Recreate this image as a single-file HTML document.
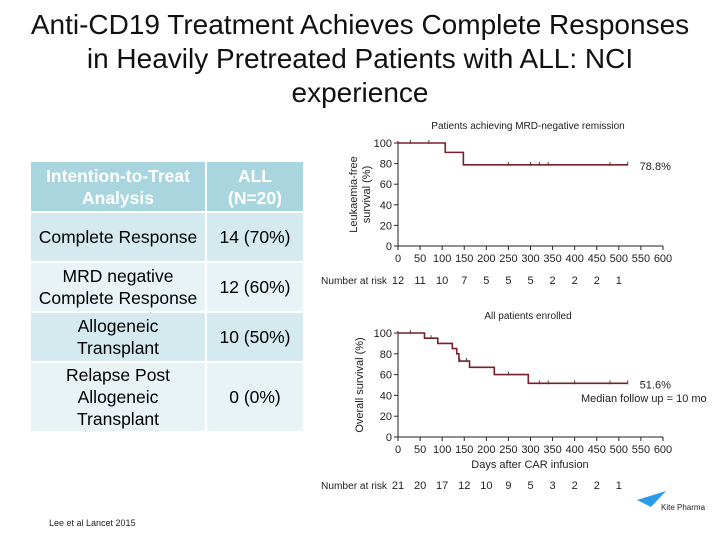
<!DOCTYPE html>
<html><head><meta charset="utf-8"><style>
body{margin:0;width:720px;height:540px;background:#fff;position:relative;overflow:hidden;font-family:"Liberation Sans",Arial,sans-serif}
#title{position:absolute;left:0;top:8px;width:720px;text-align:center;font-size:28px;line-height:34px;color:#111}
table{position:absolute;left:31px;top:162px;border-collapse:separate;border-spacing:0 0;font-size:17.5px;color:#000}
td{text-align:center;border-right:2px solid #fff;border-bottom:2px solid #fff;line-height:22px;padding:0}
.c1{width:174px}.c2{width:96px}
.h td{background:#a9d5df;color:#fff;font-weight:bold;height:49px}
.r1 td{background:#d5eaef;height:48px}
.r2 td{background:#e9f3f6;height:48px}
#cite{position:absolute;left:49px;top:518px;font-size:9px;color:#222}
svg{position:absolute;left:0;top:0}
</style></head><body>
<div id="title">Anti-CD19 Treatment Achieves Complete Responses<br>in Heavily Pretreated Patients with ALL: NCI<br>experience</div>
<table>
<tr class="h"><td class="c1">Intention-to-Treat<br>Analysis</td><td class="c2">ALL<br>(N=20)</td></tr>
<tr class="r1"><td>Complete Response</td><td>14 (70%)</td></tr>
<tr class="r2"><td>MRD negative<br>Complete Response</td><td>12 (60%)</td></tr>
<tr class="r1"><td>Allogeneic<br>Transplant</td><td>10 (50%)</td></tr>
<tr class="r2"><td style="height:68px">Relapse Post<br>Allogeneic<br>Transplant</td><td>0 (0%)</td></tr>
</table>
<div id="cite">Lee et al Lancet 2015</div>
<svg id="chart" width="720" height="540"></svg>
<script>
const xTicks=[0,50,100,150,200,250,300,350,400,450,500,550,600];
const yTicks=[0,20,40,60,80,100];
const riskX=[0,50,100,150,200,250,300,350,400,450,500];
const lfsTimes=[0,107,148,520];
const lfsValues=[100,90.9,78.8,78.8];
const lfsCensor=[28,70,250,300,320,340,480,520];
const lfsRisk=["12","11","10","7","5","5","5","2","2","2","1"];
const osTimes=[0,60,90,123,133,138,162,218,295,520];
const osValues=[100,95,90,85,80,73,67,60,51.6,51.6];
const osCensor=[28,75,140,155,250,320,340,400,480,520];
const osRisk=["21","20","17","12","10","9","5","3","2","2","1"];
const NS="http://www.w3.org/2000/svg";
const svg=document.getElementById('chart');
function el(t,a,txt){const e=document.createElementNS(NS,t);for(const k in a)e.setAttribute(k,a[k]);if(txt!==undefined)e.textContent=txt;svg.appendChild(e);return e;}
const X0=398,X1=663;
function sx(v){return X0+(v/600)*(X1-X0);}
function panel(top,bottom,times,vals,cens,risk,yTitle,title,riskY,label,pre){
  const sy=v=>bottom-(v/100)*(bottom-top);
  let t=el('text',{x:528,y:top-14,'font-size':10,'text-anchor':'middle',fill:'#222'},title);
  
  let a=el('line',{x1:X0,y1:top-2,x2:X0,y2:bottom,stroke:'#222','stroke-width':1});
  
  a=el('line',{x1:X0,y1:bottom,x2:X1,y2:bottom,stroke:'#222','stroke-width':1});
  
  yTicks.forEach(v=>{el('line',{x1:X0-4,y1:sy(v),x2:X0,y2:sy(v),stroke:'#222'});
    const l=el('text',{x:X0-6,y:sy(v)+4,'font-size':11,'text-anchor':'end',fill:'#222'},v);
    });
  xTicks.forEach(v=>{el('line',{x1:sx(v),y1:bottom,x2:sx(v),y2:bottom+4,stroke:'#222'});
    const l=el('text',{x:sx(v),y:bottom+16,'font-size':11,'text-anchor':'middle',fill:'#222'},v);
    });
  const yt=el('text',{transform:`translate(${X0-38},${(top+bottom)/2}) rotate(-90)`,'font-size':11,'text-anchor':'middle',fill:'#222'},'');
  
  yTitle.forEach((s,i)=>{const ts=document.createElementNS(NS,'tspan');ts.setAttribute('x',0);ts.setAttribute('dy',i?13:(yTitle.length>1?-3:3));ts.textContent=s;yt.appendChild(ts);});
  let d='M'+sx(times[0])+','+sy(vals[0]);
  for(let i=1;i<times.length;i++){d+=' H'+sx(times[i])+' V'+sy(vals[i]);}
  const p=el('path',{d:d,fill:'none',stroke:'#7a1f2a','stroke-width':1.6});
  
  cens.forEach(c=>{let v=vals[0];for(let i=0;i<times.length;i++)if(times[i]<=c)v=vals[i];
    const m=el('line',{x1:sx(c),y1:sy(v)-3,x2:sx(c),y2:sy(v)+1,stroke:'#444','stroke-width':1});
    });
  const rl=el('text',{x:321,y:riskY,'font-size':10,fill:'#222',textLength:66,lengthAdjust:'spacingAndGlyphs'},'Number at risk');
  
  risk.forEach((r,i)=>{const l=el('text',{x:sx(riskX[i]),y:riskY,'font-size':11,'text-anchor':'middle',fill:'#222'},r);
    });
  const lb=el('text',{x:sx(times[times.length-1])+12,y:sy(vals[vals.length-1])+5,'font-size':11,fill:'#222'},label);
  
}
panel(143,246,lfsTimes,lfsValues,lfsCensor,lfsRisk,['Leukaemia-free','survival (%)'],'Patients achieving MRD-negative remission',284,'78.8%','lfs');
panel(333,437,osTimes,osValues,osCensor,osRisk,['Overall survival (%)'],'All patients enrolled',489,'51.6%','os');
let m=el('text',{x:581,y:402,'font-size':11,fill:'#222'},'Median follow up = 10 mo');

let d=el('text',{x:530,y:468,'font-size':11,'text-anchor':'middle',fill:'#222'},'Days after CAR infusion');

let lg=el('path',{d:'M637,500 L666,491 L651,507 Z',fill:'#2a9be8'});

let kt=el('text',{x:661,y:510,'font-size':8,fill:'#222'},'Kite Pharma');

</script>
</body></html>
